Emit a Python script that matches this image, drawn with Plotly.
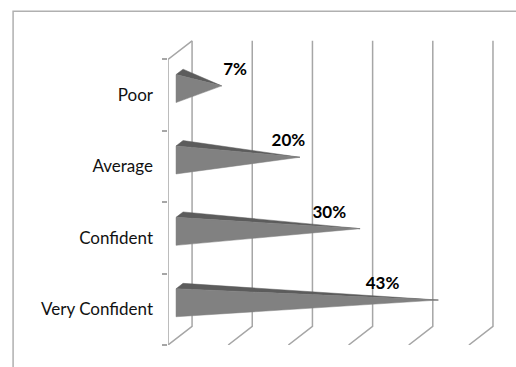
import plotly.graph_objects as go

categories = ["Very Confident", "Confident", "Average", "Poor"]
values = [43, 30, 20, 7]
value_labels = ["43%", "30%", "20%", "7%"]
grid_values = [0, 10, 20, 30, 40, 50]

# 3D projection helpers (depth offsets in data units)
DX = 4.0      # percent units per full depth
DY = 0.26     # category units per full depth
N = len(categories)

def proj(v, c, d):
    return v + d * DX, c + d * DY

fig = go.Figure()
line_col = "#a6a6a6"

# back wall gridlines and floor lines
for g in grid_values:
    a = proj(g, 0, 0); b = proj(g, 0, 1); t = proj(g, N, 1)
    fig.add_trace(go.Scatter(x=[a[0], b[0], t[0]], y=[a[1], b[1], t[1]], mode="lines",
                             line=dict(color=line_col, width=1.5),
                             hoverinfo="skip", showlegend=False))

# left wall front edge and top diagonal
p0 = proj(0, 0, 0); p1 = proj(0, N, 0); p2 = proj(0, N, 1)
fig.add_trace(go.Scatter(x=[p0[0], p1[0], p2[0]], y=[p0[1], p1[1], p2[1]], mode="lines",
                         line=dict(color=line_col, width=1.5), hoverinfo="skip", showlegend=False))

# pyramids
H = 0.196
D0, D1 = 1/3, 0.625
DM = (D0 + D1) / 2
for i, v in enumerate(values):
    ci = i + 0.505
    bl = proj(0, ci - H, D0); tl = proj(0, ci + H, D0); tb = proj(0, ci + H, D1)
    apex = proj(v, ci, DM)
    fig.add_trace(go.Scatter(x=[tl[0], tb[0], apex[0], tl[0]], y=[tl[1], tb[1], apex[1], tl[1]],
                             fill="toself", fillcolor="#5c5c5c", mode="lines",
                             line=dict(color="#5c5c5c", width=0.5), hoverinfo="skip", showlegend=False))
    fig.add_trace(go.Scatter(x=[bl[0], tl[0], apex[0], bl[0]], y=[bl[1], tl[1], apex[1], bl[1]],
                             fill="toself", fillcolor="#818181", mode="lines",
                             line=dict(color="#818181", width=0.5), hoverinfo="skip", showlegend=False))
    # data label, placed as Excel does for 3D pyramids (along the top edge)
    lx = v * 0.68 + 6.4
    ly = ci + 0.34
    fig.add_trace(go.Scatter(x=[lx], y=[ly], mode="text", text=[value_labels[i]],
                             textposition="middle center",
                             textfont=dict(family="Lato", size=17, color="#000000", weight="bold"),
                             hoverinfo="skip", showlegend=False, cliponaxis=False))

fig.update_layout(
    width=516, height=367,
    margin=dict(l=168, r=17, t=38, b=22),
    paper_bgcolor="white", plot_bgcolor="white",
    xaxis=dict(range=[0, 55], showgrid=False, zeroline=False, showticklabels=False,
               showline=False, ticks=""),
    yaxis=dict(range=[0, 4.3], showgrid=False, zeroline=False, showline=False,
               tickvals=[i + 0.5 for i in range(N)], ticktext=categories, ticks="",
               tickfont=dict(family="Lato", size=17, color="#111111"),
               ticklabelstandoff=14,
               minor=dict(tickmode="array", tickvals=list(range(N + 1)), ticks="outside",
                          ticklen=5, tickcolor=line_col, tickwidth=1.5)),
    shapes=[dict(type="rect", xref="paper", yref="paper", x0=-0.468, y0=-0.2, x1=1.2, y1=1.087,
                 line=dict(color="#b0b0b0", width=1.5), fillcolor="rgba(0,0,0,0)", layer="below")],
)

fig.write_html("out.html")
